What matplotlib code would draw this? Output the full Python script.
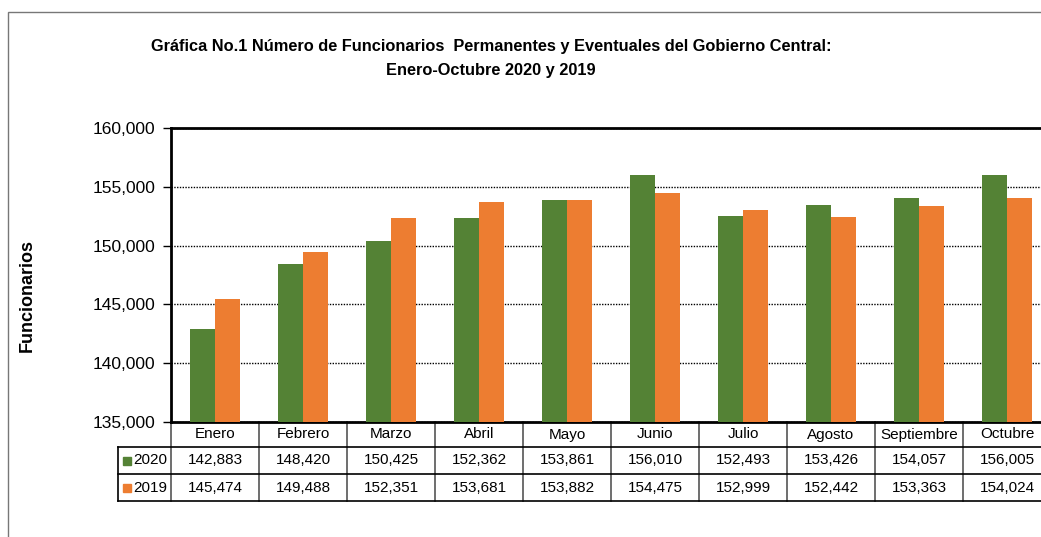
import matplotlib.pyplot as plt
from matplotlib import transforms
from matplotlib.patches import Rectangle
from matplotlib.ticker import FuncFormatter

meses = ["Enero", "Febrero", "Marzo", "Abril", "Mayo", "Junio",
         "Julio", "Agosto", "Septiembre", "Octubre"]
serie_2020 = [142883, 148420, 150425, 152362, 153861, 156010,
              152493, 153426, 154057, 156005]
serie_2019 = [145474, 149488, 152351, 153681, 153882, 154475,
              152999, 152442, 153363, 154024]
nombres = ["2020", "2019"]
colores = ["#548235", "#ED7D31"]

plt.rcParams['font.family'] = ['Liberation Sans', 'DejaVu Sans']

fig = plt.figure(figsize=(10.41, 5.37), dpi=100)
ax = fig.add_axes([171 / 1041, 115 / 537, 880 / 1041, 294 / 537])

x = range(len(meses))
w = 0.284
ax.bar([i - w / 2 for i in x], serie_2020, width=w, color=colores[0], zorder=3)
ax.bar([i + w / 2 for i in x], serie_2019, width=w, color=colores[1], zorder=3)

ax.set_xlim(-0.5, len(meses) - 0.5)
ax.set_ylim(135000, 160000)
ax.set_yticks(range(135000, 160001, 5000))
ax.yaxis.set_major_formatter(FuncFormatter(lambda v, p: f"{int(v):,}"))
ax.tick_params(axis='y', direction='out', length=6, width=1, pad=5, labelsize=12.5)
ax.set_xticks([])
ax.grid(axis='y', color='black', linestyle=(0, (1, 1)), linewidth=1, zorder=0)
for s in ['left', 'bottom', 'top']:
    ax.spines[s].set_linewidth(2)
ax.spines['right'].set_visible(False)

# tabla de datos debajo del eje
tr = transforms.blended_transform_factory(ax.transData, ax.transAxes)
h0 = 25 / 294
h1 = 27 / 294
xl = -0.5 - 53 / 88
y_rows = [0, -h0, -h0 - h1, -h0 - 2 * h1]
for k in range(len(meses) + 1):
    ax.plot([k - 0.5, k - 0.5], [0, y_rows[-1]], transform=tr, color='#555555',
            lw=1.2, clip_on=False)
for yy in y_rows[1:]:
    ax.plot([xl, len(meses) - 0.5], [yy, yy], transform=tr, color='black',
            lw=1.2, clip_on=False)
ax.plot([xl, xl], [y_rows[1], y_rows[-1]], transform=tr, color='black',
        lw=1.2, clip_on=False)

fs = 11
for i, m in enumerate(meses):
    ax.text(i, -h0 / 2, m, transform=tr, ha='center', va='center', fontsize=fs)
for r, (serie, nombre, c) in enumerate(zip([serie_2020, serie_2019], nombres, colores)):
    yc = -h0 - h1 * (r + 0.5)
    for i, v in enumerate(serie):
        ax.text(i, yc, f"{v:,}", transform=tr, ha='center', va='center', fontsize=fs)
    sq = 8 / 88
    ax.add_patch(Rectangle((xl + 5 / 88, yc - 4 / 294), sq, 8 / 294, transform=tr,
                           color=c, clip_on=False))
    ax.text(xl + 15 / 88, yc, nombre, transform=tr, ha='left', va='center', fontsize=fs)

fig.text(491 / 1041, 1 - 46 / 537,
         "Gráfica No.1 Número de Funcionarios  Permanentes y Eventuales del Gobierno Central:",
         ha='center', va='center', fontsize=11.8, fontweight='bold')
fig.text(491 / 1041, 1 - 71 / 537, "Enero-Octubre 2020 y 2019",
         ha='center', va='center', fontsize=11.8, fontweight='bold')
fig.text(27 / 1041, 1 - 295 / 537, "Funcionarios", rotation=90,
         ha='center', va='center', fontsize=13, fontweight='bold')

fig.add_artist(Rectangle((8 / 1041, -0.1), 1.2, 1.1 - 12 / 537, transform=fig.transFigure,
                         fill=False, edgecolor='#777777', lw=1))

fig.savefig("out.png", dpi=100)
